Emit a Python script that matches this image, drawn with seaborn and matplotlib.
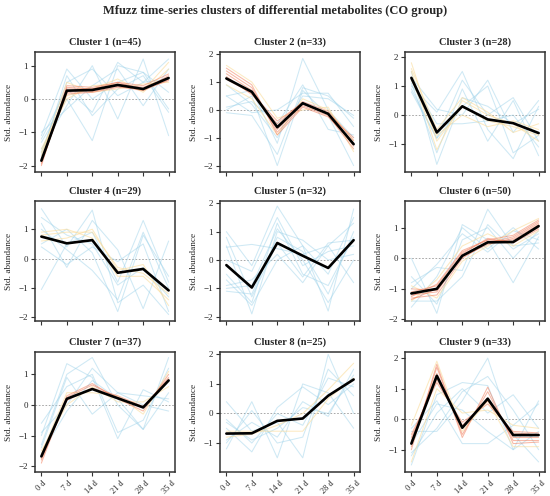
import numpy as np
import pandas as pd
import matplotlib
matplotlib.use("Agg")
import matplotlib.pyplot as plt
import seaborn as sns

times = ["0 d", "7 d", "14 d", "21 d", "28 d", "35 d"]
cluster_names = ["Cluster 1 (n=45)", "Cluster 2 (n=33)", "Cluster 3 (n=28)",
                 "Cluster 4 (n=29)", "Cluster 5 (n=32)", "Cluster 6 (n=50)",
                 "Cluster 7 (n=37)", "Cluster 8 (n=25)", "Cluster 9 (n=33)"]

centroids = [
    [-1.85, 0.25, 0.27, 0.42, 0.30, 0.63],
    [1.13, 0.65, -0.62, 0.24, -0.14, -1.23],
    [1.28, -0.60, 0.30, -0.15, -0.28, -0.62],
    [0.75, 0.52, 0.63, -0.48, -0.35, -1.08],
    [-0.18, -0.97, 0.60, 0.15, -0.28, 0.70],
    [-1.15, -1.00, 0.08, 0.52, 0.53, 1.05],
    [-1.68, 0.20, 0.52, 0.22, -0.08, 0.80],
    [-0.68, -0.67, -0.25, -0.17, 0.60, 1.15],
    [-0.80, 1.42, -0.28, 0.67, -0.52, -0.52],
]

# member profiles per cluster (high / mid / low membership groups)
members_high = [
    [[-1.95, 0.35, 0.30, 0.45, 0.35, 0.65], [-2.0, 0.40, 0.35, 0.50, 0.28, 0.70],
     [-1.9, 0.20, 0.22, 0.38, 0.25, 0.58], [-1.8, 0.30, 0.30, 0.50, 0.40, 0.75],
     [-1.85, 0.15, 0.20, 0.35, 0.30, 0.55]],
    [[1.3, 0.7, -0.7, 0.2, -0.1, -1.3], [1.4, 0.8, -0.8, 0.15, -0.2, -1.4],
     [1.2, 0.55, -0.5, 0.3, -0.05, -1.1], [1.5, 0.9, -0.9, 0.1, -0.25, -1.2],
     [1.1, 0.6, -0.4, 0.25, -0.15, -1.0]],
    [],
    [],
    [],
    [[-1.2, -1.1, 0.1, 0.55, 0.6, 1.1], [-1.3, -1.2, 0.0, 0.5, 0.7, 1.2],
     [-1.1, -0.9, 0.2, 0.6, 0.55, 1.0], [-1.35, -1.0, 0.05, 0.45, 0.65, 1.15],
     [-1.0, -1.05, 0.15, 0.65, 0.5, 0.95], [-1.25, -0.85, 0.25, 0.6, 0.75, 1.25]],
    [[-1.8, 0.25, 0.65, 0.25, -0.1, 0.9], [-1.9, 0.3, 0.7, 0.2, -0.2, 1.0],
     [-1.75, 0.15, 0.55, 0.3, -0.05, 0.85]],
    [],
    [[-0.7, 1.5, -0.3, 0.7, -0.6, -0.6], [-0.9, 1.7, -0.5, 0.9, -0.7, -0.7],
     [-0.6, 1.3, -0.2, 0.6, -0.45, -0.5], [-1.0, 1.8, -0.6, 1.05, -0.8, -0.75],
     [-0.5, 1.2, -0.1, 0.5, -0.4, -0.45]],
]
members_mid = [
    [[-1.6, 0.1, 0.3, 0.6, 0.2, 0.9], [-1.7, 0.5, 0.2, 0.3, 0.45, 0.5],
     [-1.5, 0.0, 0.4, 0.45, 0.25, 1.1]],
    [[1.6, 1.0, -0.3, 0.0, 0.1, -1.5], [0.9, 0.4, -0.9, 0.4, 0.0, -1.1]],
    [[1.8, -0.9, 0.3, -0.2, -0.4, -0.7], [1.5, -1.2, 0.5, 0.0, -0.3, -0.9],
     [1.2, -0.7, 0.0, -0.4, -0.2, -0.5], [1.6, -0.5, 0.6, 0.1, -0.6, -0.3]],
    [[0.8, 0.9, 0.9, -0.3, -0.5, -1.2], [0.9, 1.0, 0.7, -0.6, -0.6, -1.4],
     [0.6, 0.7, 1.0, -0.4, -0.2, -1.6]],
    [],
    [[-1.4, -0.7, 0.4, 0.8, 0.4, 0.9], [-0.9, -1.3, -0.1, 0.4, 0.9, 1.3]],
    [[-1.6, 0.4, 0.4, 0.3, -0.3, 1.1], [-1.5, 0.0, 0.6, 0.1, 0.1, 0.6]],
    [[-0.6, -0.6, -0.6, -0.6, 0.5, 1.2], [-0.8, -0.7, -0.4, 0.0, 0.8, 1.7]],
    [[-1.4, 1.0, 0.2, 0.3, -0.2, -0.3], [-0.2, 1.9, -0.4, 0.6, -0.9, -0.9]],
]
members_low = [
    [[-1.1, 0.9, 0.0, 0.5, 0.8, -0.3], [-1.3, 0.0, -1.25, 1.0, 0.8, 0.2],
     [-1.5, -0.2, 1.0, -0.6, 1.2, -1.1], [-1.2, 0.3, -0.4, 1.1, 0.5, 0.6],
     [-1.6, 0.5, 0.9, 0.1, 0.5, 1.2], [-1.0, -0.3, 0.4, 0.9, -0.2, 0.9],
     [-1.7, 0.7, -0.5, 0.3, 0.7, -0.4]],
    [[0.5, 0.7, -1.2, 1.85, 0.0, -1.0], [-0.1, -0.2, -1.6, 0.8, 0.5, -0.3],
     [0.0, 0.5, -2.0, 0.7, -0.2, -2.0], [0.5, -0.1, 0.0, 0.6, 0.6, -0.6],
     [0.9, 0.2, -1.0, 0.5, 0.4, -0.2], [0.1, 0.3, -0.5, 0.9, -0.7, -0.9]],
    [[1.0, 0.1, 1.5, -0.5, -1.5, 0.3], [0.8, -0.8, 1.2, 0.0, 0.6, -0.9],
     [1.3, 0.2, 0.0, 1.2, -0.6, 0.5], [1.1, -1.3, 0.9, -0.9, 0.5, -1.4],
     [1.5, -1.7, 0.6, 0.3, -0.3, 0.2], [0.9, -0.8, 0.3, 1.0, -1.3, -0.7],
     [1.2, -0.3, -0.3, -0.2, 0.0, -1.1]],
    [[-1.05, 0.5, 0.9, -0.8, 1.3, -0.8], [1.7, 0.4, 1.65, -1.5, -0.9, -1.9],
     [1.2, -0.3, 1.3, 0.3, -1.7, 0.6], [0.5, 1.0, 0.2, -1.8, 0.8, -0.6],
     [1.4, 0.8, 0.5, -0.9, -0.3, -1.3], [0.4, -0.2, 0.4, -0.1, 0.5, -1.8],
     [1.0, 0.3, -0.4, -1.4, 0.9, -1.0]],
    [[1.0, -0.2, 1.9, 0.5, -1.8, 1.8], [0.5, -1.9, 1.0, 0.7, 0.0, 0.2],
     [-0.9, -0.7, 0.2, -0.8, 0.5, 1.3], [-0.5, -1.5, 1.3, -0.5, -0.9, 0.8],
     [0.45, 0.55, 0.4, 0.2, 0.5, -0.8], [-1.1, -1.2, 0.8, 0.3, -1.2, 1.0],
     [0.0, -0.4, 1.5, -0.2, 0.3, 0.5], [-0.7, -1.6, 0.0, 0.5, -0.5, 1.5],
     [-1.0, -0.9, 1.1, 0.0, -1.5, 0.0], [0.8, -1.3, 0.6, -0.6, 0.6, 0.7]],
    [[0.0, -1.8, 1.1, 0.6, -0.8, 0.7], [-0.8, -0.3, -0.4, 1.6, 0.4, 0.5],
     [-1.6, -0.6, 1.0, 0.3, 1.0, 0.3], [-0.6, -1.5, 0.6, 1.0, 0.0, 0.9],
     [-1.0, -0.2, 0.8, 0.2, 0.9, 0.6], [-1.4, -1.4, -0.6, 1.1, 0.3, 0.8]],
    [[-1.0, 1.35, 0.9, -1.1, 0.5, 0.1], [-1.3, 1.0, 1.55, 0.0, -0.8, 1.55],
     [-0.9, 0.0, 1.2, 0.4, 0.0, -0.2], [-1.4, 0.9, -0.3, 0.4, 0.3, 0.2],
     [-0.6, 0.6, 1.0, -0.9, -0.5, 1.2], [-1.6, -0.2, 0.8, 0.2, -0.8, 0.4]],
    [[0.4, -0.6, -0.3, -1.5, 2.0, 0.0], [-1.2, 0.4, -1.5, 1.0, 0.7, -0.5],
     [-0.2, -1.0, 0.0, -0.4, 1.2, 0.9], [-0.9, -0.3, -0.8, 0.4, -0.1, 1.5],
     [-0.5, -1.3, 0.2, 0.9, 0.3, 1.0], [-1.0, 0.1, -1.0, -0.8, 1.5, 0.6],
     [-0.3, -0.9, -0.5, 0.2, 0.0, 1.3]],
    [[-1.5, 0.8, 1.2, 1.1, -1.0, 0.6], [-0.4, -0.4, 0.6, 2.0, -0.5, -1.4],
     [-1.2, 0.2, 1.0, 0.2, 0.8, -0.3], [-0.3, 0.6, -0.8, -0.8, -0.2, 0.5],
     [-1.1, -0.3, 0.9, 1.4, 0.3, -1.0], [-0.8, 0.5, 0.3, -0.4, -1.0, -0.4]],
]

ylims = [(-2.19, 1.41), (-2.23, 2.08), (-1.96, 2.17),
         (-2.12, 1.96), (-2.15, 2.08), (-2.05, 1.87),
         (-2.19, 1.73), (-1.98, 2.08), (-1.73, 2.20)]
yticks = [[-2, -1, 0, 1], [-2, -1, 0, 1, 2], [-1, 0, 1, 2],
          [-2, -1, 0, 1], [-2, -1, 0, 1, 2], [-2, -1, 0, 1],
          [-2, -1, 0, 1], [-1, 0, 1, 2], [-1, 0, 1, 2]]

sns.set_theme(style="ticks")
plt.rcParams["font.family"] = ["Liberation Serif", "DejaVu Serif"]
plt.rcParams["axes.edgecolor"] = "#333333"
plt.rcParams["axes.linewidth"] = 1.1

fig = plt.figure(figsize=(5.5, 4.96), dpi=100)
W, H = 550.0, 496.0
lefts = [35, 220, 405]
tops = [52, 201, 352]
aw, ah = 140, 120

group_colors = {"low": "#9fd3ea", "mid": "#fbdc9a", "high": "#f2805f"}
group_alpha = {"low": 0.5, "mid": 0.6, "high": 0.55}

for i in range(9):
    r, c = divmod(i, 3)
    ax = fig.add_axes([lefts[c] / W, 1 - (tops[r] + ah) / H, aw / W, ah / H])
    for grp, src in (("low", members_low), ("mid", members_mid), ("high", members_high)):
        rows = []
        for k, prof in enumerate(src[i]):
            for t, v in enumerate(prof):
                rows.append({"t": t, "v": v, "id": k})
        if rows:
            df = pd.DataFrame(rows)
            sns.lineplot(data=df, x="t", y="v", units="id", estimator=None,
                         color=group_colors[grp], alpha=group_alpha[grp],
                         lw=0.75, ax=ax, legend=False)
    ax.axhline(0, color="#9a9a9a", lw=0.6, ls=(0, (2, 2)), zorder=1)
    cdf = pd.DataFrame({"t": range(len(times)), "v": centroids[i]})
    sns.lineplot(data=cdf, x="t", y="v", color="black", lw=1.9, ax=ax, zorder=5)
    ax.set_xlim(-0.25, 5.25)
    ax.set_ylim(*ylims[i])
    ax.set_yticks(yticks[i])
    ax.set_yticklabels(["\u2212%d" % abs(v) if v < 0 else str(v) for v in yticks[i]])
    ax.set_xticks(range(len(times)))
    if r == 2:
        ax.set_xticklabels(times, rotation=45, fontsize=6)
    else:
        ax.set_xticklabels([])
    ax.set_xlabel("")
    ax.set_ylabel("Std. abundance", fontsize=6.7, labelpad=4)
    ax.tick_params(axis="both", labelsize=6.5, length=3, width=0.8, color="#333333", pad=2)
    ax.tick_params(axis="x", labelsize=6)
    ax.set_title(cluster_names[i], fontsize=7.5, fontweight="bold", pad=5)
    for s in ax.spines.values():
        s.set_visible(True)

fig.suptitle("Mfuzz time-series clusters of differential metabolites (CO group)",
             fontsize=9, fontweight="bold", y=1 - 11 / H, va="center")
fig.savefig("out.png", dpi=100)
